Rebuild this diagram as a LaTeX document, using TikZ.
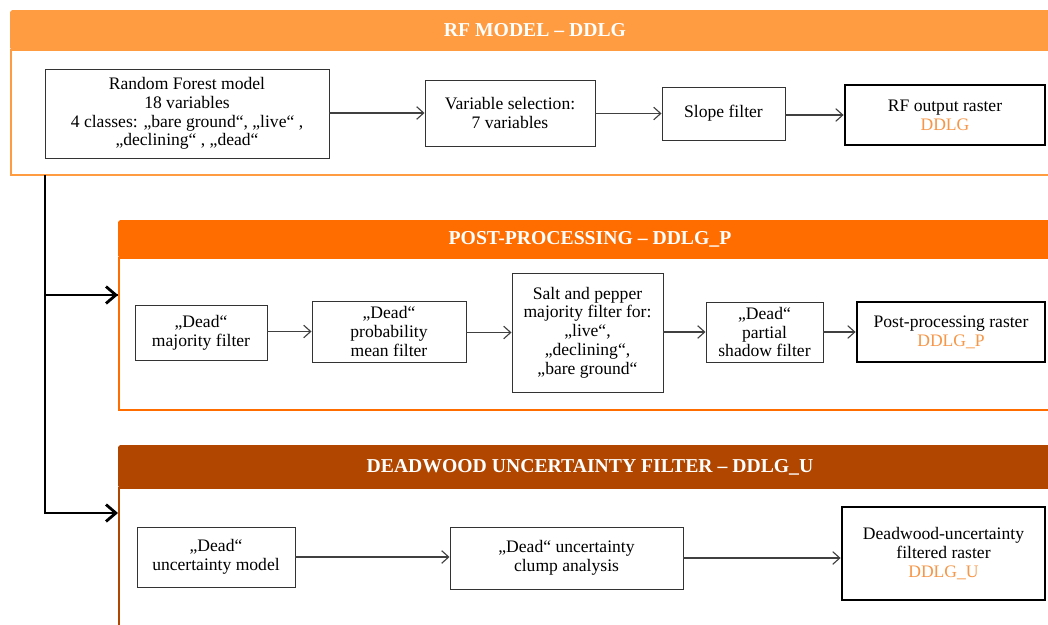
\documentclass[tikz,border=0pt]{standalone}
\usepackage{fontspec}
\setmainfont{Liberation Serif}
\usepackage{tikz}
\usetikzlibrary{arrows.meta}
\definecolor{rforange}{HTML}{FF9B40}
\definecolor{pporange}{HTML}{FF6D00}
\definecolor{dubrown}{HTML}{B04600}
\definecolor{rastertext}{HTML}{F79646}

\begin{document}
\begin{tikzpicture}[x=0.025cm,y=-0.025cm,
    every node/.style={font=\fontsize{12.5}{13.4}\selectfont},
    sz/.style 2 args={minimum width=#1*0.025cm,minimum height=#2*0.025cm},
    box/.style={draw=black!80,line width=0.7pt,fill=white,align=center,inner sep=2pt},
    raster/.style={box,draw=black,line width=2pt},
    head/.style={text=white,font=\bfseries\fontsize{14}{16}\selectfont,anchor=center},
    flow/.style={draw=black!75,line width=0.8pt,-{Straight Barb[length=5pt,width=9pt]}},
    branch/.style={draw=black,line width=2pt,-{Straight Barb[length=7pt,width=12pt,line width=2pt]}}]
        \clip (0,0) rectangle (1048,625);
        \fill[white] (0,0) rectangle (1048,625);

        % the three panels, cut at the right edge
        \draw[rforange,line width=2pt] (11,50) rectangle (1070,175);
        \fill[rforange,rounded corners=2pt] (10,10) rectangle (1070,50);
        \node[head] (rfhead) at (535,30) {RF MODEL -- DDLG};

        \draw[pporange,line width=2pt] (119,258) rectangle (1070,410);
        \fill[pporange,rounded corners=2pt] (118,220) rectangle (1070,258);
        \node[head] (pphead) at (590,239) {POST-PROCESSING -- DDLG\_P};

        \draw[dubrown,line width=2pt] (119,488) rectangle (1070,660);
        \fill[dubrown,rounded corners=2pt] (118,445) rectangle (1070,488);
        \node[head] (duhead) at (590,467) {DEADWOOD UNCERTAINTY FILTER -- DDLG\_U};

        %% RF model row
        \node[box,sz={284}{89}] (rf) at (187,113.5) {Random Forest model\\18 variables\\4 classes: „bare ground“, „live“ ,\\„declining“ , „dead“};
        \node[box,sz={170}{66}] (varsel) at (510,113) {Variable selection:\\7 variables};
        \node[box,sz={123}{53}] (slope) at (723.5,113.5) {Slope filter};
        \node[raster,sz={200}{60}] (rfout) at (945,115) {RF output raster\\\textcolor{rastertext}{DDLG}};

        %% post-processing row
        \node[box,sz={132}{55}] (maj) at (201,332.5) {„Dead“\\majority filter};
        \node[box,sz={154}{61}] (mean) at (389,331.5) {„Dead“\\probability\\mean filter};
        \node[box,sz={151}{119}] (salt) at (587.5,332.5) {Salt and pepper\\majority filter for:\\„live“,\\„declining“,\\„bare ground“};
        \node[box,sz={117}{60}] (shadow) at (764.5,332) {„Dead“\\partial\\shadow filter};
        \node[raster,sz={188}{60}] (ppout) at (951,332) {Post-processing raster\\\textcolor{rastertext}{DDLG\_P}};

        %% uncertainty row
        \node[box,sz={158}{60}] (unc) at (216,557) {„Dead“\\uncertainty model};
        \node[box,sz={233}{62}] (clump) at (566.5,558) {„Dead“ uncertainty\\clump analysis};
        \node[raster,sz={203}{93}] (duout) at (943.5,553.5) {Deadwood-uncertainty\\filtered raster\\\textcolor{rastertext}{DDLG\_U}};

        % connectors inside the panels
        \foreach \a/\b in {rf/varsel,varsel/slope,slope/rfout,maj/mean,mean/salt,salt/shadow,shadow/ppout}
          \draw[flow] (\a.east |- \b) -- (\b.west);
        \draw[flow] (unc.east) -- (unc.east -| clump.west);
        \draw[flow] (clump.east) -- (clump.east -| duout.west);

        % the trunk from the RF panel to the other two
        \coordinate (trunk) at (45,175);
        \coordinate (ppin) at (118,295);
        \coordinate (duin) at (118,513);
        \draw[black,line width=2pt] (trunk) |- (ppin);
        \draw[branch] (trunk) |- (duin);
        \draw[branch] (trunk |- ppin) -- (ppin);
      \end{tikzpicture}
\end{document}
